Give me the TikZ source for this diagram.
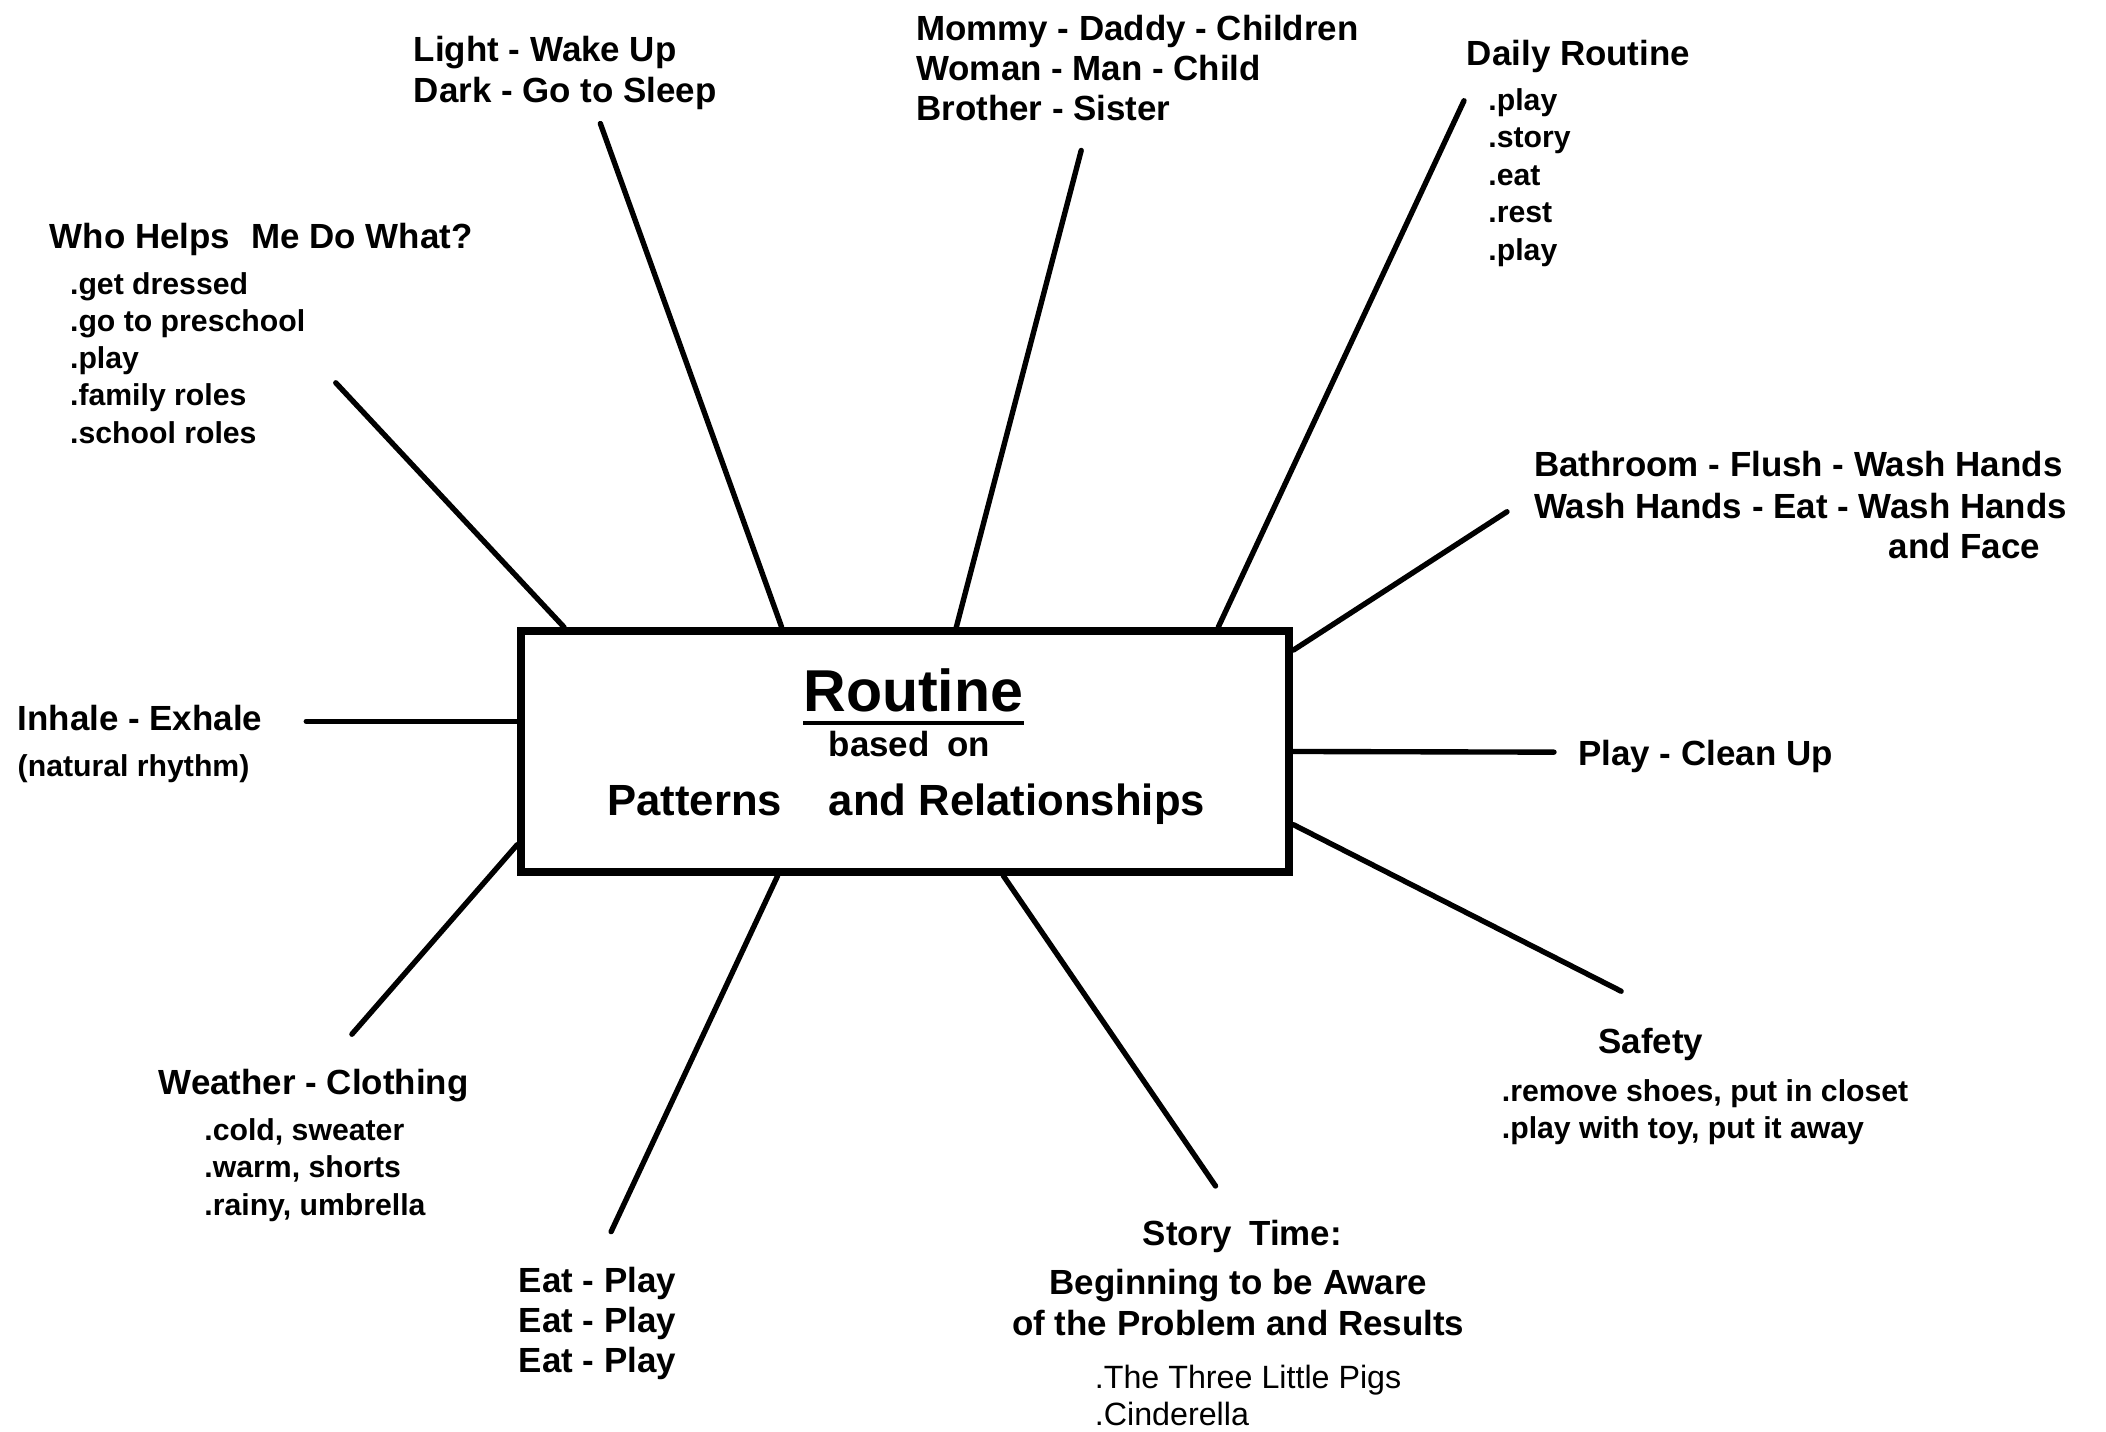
\documentclass[tikz,border=0pt]{standalone}
\usepackage{fontspec}
\setmainfont{Liberation Sans}
\begin{document}
\begin{tikzpicture}[x=1pt,y=-1pt,
  spoke/.style={line width=4pt,line cap=round},
  hubbox/.style={draw,line width=6pt,minimum width=572pt,minimum height=179pt,inner sep=0pt},
  lbl/.style={anchor=base west,inner sep=0pt,font=\fontsize{26}{30}\selectfont\bfseries},
  clbl/.style={anchor=base,inner sep=0pt,font=\fontsize{26}{30}\selectfont\bfseries},
  sub/.style={anchor=base west,inner sep=0pt,font=\fontsize{22.5}{27}\selectfont\bfseries},
  tale/.style={anchor=base west,inner sep=0pt,font=\fontsize{24}{28}\selectfont}]
\useasboundingbox (0,0) rectangle (1568,1066);

% central box
\node[hubbox] (hub) at (674,559.5) {};
\node[anchor=base,inner sep=0pt,font=\fontsize{44}{50}\selectfont\bfseries] (title) at (680,530) {Routine};
\draw[line width=3pt] ([yshift=-8pt]title.base west) -- ([yshift=-8pt]title.base east);
\node[clbl] (based) at (677,563) {based\hspace{0.5em}on};
\node[anchor=base west,inner sep=0pt,font=\fontsize{32.5}{38}\selectfont\bfseries] (patterns) at (452,607) {Patterns\hspace{35pt}and Relationships};

% outer ends of the spokes
\coordinate (eWho) at (250,285);
\coordinate (eLight) at (447,92);
\coordinate (eFamily) at (805,112);
\coordinate (eDaily) at (1090,75);
\coordinate (eBath) at (1122,381);
\coordinate (ePlay) at (1157,560);
\coordinate (eSafety) at (1207,738);
\coordinate (eStory) at (905,883);
\coordinate (eEat) at (455,917);
\coordinate (eWeather) at (262,770);
\coordinate (eInhale) at (228,537);

% spokes
\draw[spoke] (eWho) -- ([xshift=35pt]hub.north west);
\draw[spoke] (eLight) -- ([xshift=197pt]hub.north west);
\draw[spoke] (eFamily) -- ([xshift=327pt]hub.north west);
\draw[spoke] (eDaily) -- ([xshift=522pt]hub.north west);
\draw[spoke] (eBath) -- ([yshift=-17pt]hub.north east);
\draw[spoke] (ePlay) -- (hub.east);
\draw[spoke] (eSafety) -- ([yshift=-147pt]hub.north east);
\draw[spoke] (eStory) -- ([xshift=362pt]hub.south west);
\draw[spoke] (eEat) -- ([xshift=194pt]hub.south west);
\draw[spoke] (eWeather) -- ([yshift=-162pt]hub.north west);
\draw[spoke] (eInhale) -- ([yshift=-70pt]hub.north west);

% light and dark
\node[lbl] (light1) at (308,46) {Light - Wake Up};
\node[lbl] (light2) at (308,76) {Dark - Go to Sleep};

% family
\node[lbl] (fam1) at (682,30) {Mommy - Daddy - Children};
\node[lbl] (fam2) at (682,60) {Woman - Man - Child};
\node[lbl] (fam3) at (682,90) {Brother - Sister};

% daily routine
\node[lbl] (daily) at (1092,49) {Daily Routine};
\node[sub] (d1) at (1108,82) {.play};
\node[sub] (d2) at (1108,110) {.story};
\node[sub] (d3) at (1108,138) {.eat};
\node[sub] (d4) at (1108,166) {.rest};
\node[sub] (d5) at (1108,194) {.play};

% who helps
\node[lbl] (who) at (37,185) {Who Helps\hspace{0.6em}Me Do What?};
\node[sub] (w1) at (52,219) {.get dressed};
\node[sub] (w2) at (52,247) {.go to preschool};
\node[sub] (w3) at (52,274) {.play};
\node[sub] (w4) at (52,302) {.family roles};
\node[sub] (w5) at (52,330) {.school roles};

% bathroom
\node[lbl] (bath1) at (1142,355) {Bathroom - Flush - Wash Hands};
\node[lbl] (bath2) at (1142,386) {Wash Hands - Eat - Wash Hands};
\node[lbl] (bath3) at (1406,416) {and Face};

% breathing
\node[lbl] (inhale) at (13,544) {Inhale - Exhale};
\node[sub] (rhythm) at (13,578) {(natural rhythm)};

% play
\node[lbl] (play) at (1175,570) {Play - Clean Up};

% safety
\node[lbl] (safety) at (1190,784) {Safety};
\node[sub] (s1) at (1118,820) {.remove shoes, put in closet};
\node[sub] (s2) at (1118,848) {.play with toy, put it away};

% weather
\node[lbl] (weather) at (118,815) {Weather - Clothing};
\node[sub] (c1) at (152,849) {.cold, sweater};
\node[sub] (c2) at (152,877) {.warm, shorts};
\node[sub] (c3) at (152,905) {.rainy, umbrella};

% eat and play
\node[lbl] (eat1) at (386,962) {Eat - Play};
\node[lbl] (eat2) at (386,992) {Eat - Play};
\node[lbl] (eat3) at (386,1022) {Eat - Play};

% story time
\node[clbl] (story1) at (925,927) {Story\hspace{0.5em}Time:};
\node[clbl] (story2) at (922,964) {Beginning to be Aware};
\node[clbl] (story3) at (922,994) {of the Problem and Results};
\node[tale] (t1) at (815,1034) {.The Three Little Pigs};
\node[tale] (t2) at (815,1061) {.Cinderella};
\end{tikzpicture}
\end{document}
